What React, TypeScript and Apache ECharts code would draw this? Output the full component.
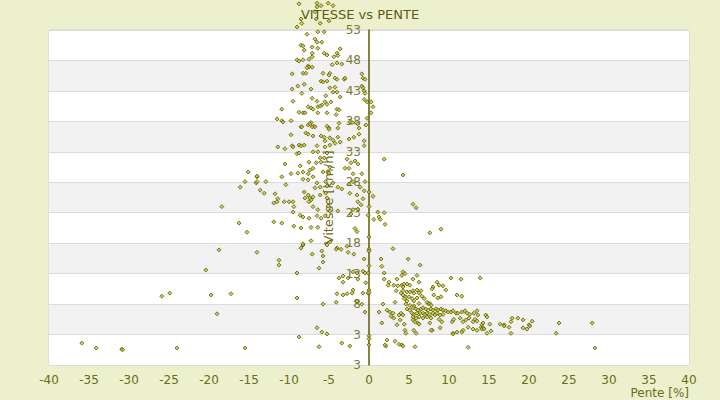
import React, { useEffect, useRef } from "react";
import * as echarts from "echarts";

// Pente [%], Vitesse [km/h] pairs
const descenteHaute: [number, number][] = [
  [-8.75,57.3],[-6.5,57.4],[-6.5,56.8],[-6,57],[-5.1,57.4],[-4.5,57],[-6.75,56],[-8.5,54.8],[-8.4,54.1],[-9,53.5],
  [-6.6,54.8],[-6.1,54.1],[-5,54.5],[-5.6,52.7],[-6.4,52.7],[-7.75,52.3],[-6.75,51.5],[-6.5,51],[-5.9,51],[-8.5,50.5],
  [-8.25,50.4],[-8.1,49.7],[-6.4,50],[-7.1,50.2],[-3.6,49.9],[-5.6,49.2],[-5.25,48.9],[-7.1,49.2],[-7.1,48.6],[-4,49.2],
  [-3.9,48.8],[-4.4,48.6],[-7.5,48.2],[-9,48.1],[-8.75,47.9],[-8.25,48.1],[-7.6,47.1],[-7.5,46.9],[-7.1,46.9],[-7.75,46.8],
  [-4.6,47.3],[-4,47.6],[-3.4,47.4],[-9.6,45.8],[-8.25,45.9],[-7.9,45.9],[-5.75,45.9],[-4.9,45.9],[-5,45.6],[-4.25,45.1],
  [-4,44.9],[-3.1,44.9],[-3,45.1],[-6,44.6],[-5.75,44.5],[-5.25,44.6],[-8.1,44.1],[-8.9,43.8],[-9.6,43.3],[-7.25,43.3],
  [-4.9,43.5],[-4.25,43.6],[-4.5,42.8],[-4,42.8],[-8.4,42.6],[-5.4,42.2],[-3.6,42],[-7.1,41.8],[-6.5,41.3],[-9.5,41.3],
  [-5.5,41.2],[-4.75,41.2],[-5.25,40.8],[-5.9,40.7],[-6.4,40.4],[-6.1,40.5],[-7.6,40.4],[-7.25,40.2],[-7,40],[-4,40],
  [-3.75,39.9],[-10.9,40],[-8.75,39.5],[-8.25,39.4],[-8,39.4],[-6.4,39.4],[-5.25,39.4],[-4.1,39.1],[-11.5,38.4],[-10.9,38.1],
  [-9.75,38.1],[-7.25,37.8],[-7.6,37.4],[-6.9,37.2],[-8.5,37.1],[-5.25,37.2],[-5,36.9],[-3.75,37.7],[-3.9,36.9],[-1.25,36.9],
  [-1.4,37.6],[-2.4,37.9],[-2.1,37.8],
  [-0.9,45.8],[-0.75,45.1],[-0.5,44.9],[-0.9,43.8],[-0.75,43.5],[-0.6,43],[-0.5,42.6],[-0.6,41.6],[-0.25,41.2],[0.25,41.2],
  [0.5,40.4],[0.25,39.4],[-0.25,38.5],[-0.4,37.4]
];

const descenteMoyenne: [number, number][] = [
  [-10.75,37.9],[-8.4,37.1],[-7.4,37.6],[-7.1,37.1],[-6.75,37.1],[-5,36.7],[-7.9,36.1],[-7.6,35.9],[-7,35.6],[-6,35.6],
  [-5.6,35.4],[-9.75,35.8],[-4.9,35.3],[-4.5,34.9],[-3.9,35.4],[-2.5,35.1],[-1.9,35.4],[-1.25,35.9],[-5.5,34.8],[-4.25,34.4],
  [-3.6,34.6],[-0.6,34.8],[-11.4,33.8],[-10.5,33.5],[-9.6,34],[-9.5,33.8],[-8.75,34.1],[-8.5,34],[-8.1,34.1],[-6.5,34],
  [-5.5,33.8],[-4.9,34.1],[-0.6,34],[-9,32.7],[-8.75,32.8],[-7,33],[-6.4,33],[-6.1,32],[-5.6,32],[-5.25,32.8],
  [-6,31.3],[-10.5,31],[-8.6,30.7],[-7.5,31.3],[-7,30.3],[-7.4,30],[-6.6,31.2],[-4.9,30.5],[-5.1,29.7],[-5,29.5],
  [-5.75,29.7],[-8.25,29.7],[-8.9,29.5],[-9.75,29.4],[-7.6,29.4],[-2.75,31.8],[-2.25,31.2],[-1.75,31.5],[-1.4,31],[-2.5,30.3],
  [-3,30.3],[-2,29.4],[-0.9,29.4],[-14,28.9],[-14.1,27.9],[-14,28.1],[-12.9,28.1],[-10.9,28.9],[-10.4,27.6],[-8.25,28.5],
  [-7.6,28.4],[-7,28.9],[-6.5,27.9],[-6.1,27.2],[-6.75,27.1],[-5.4,28.1],[-5.25,27.4],[-4.5,27.9],[-3.9,27.2],[-3.4,26.9],
  [-2.5,27.7],[-2,28.1],[-1.1,27.2],[-0.5,28.1],[-13.6,26.7],[-13.1,26.2],[-11.75,26.1],[-11.4,25.3],[-11.9,24.6],[-11.5,24.8],
  [-10.6,24.8],[-10,24.8],[-9.5,24.8],[-9.4,24],[-9.5,23.1],[-8.1,26.4],[-7.6,25.9],[-7.4,25.4],[-7.25,25.1],[-7.5,24.8],
  [-8,25.4],[-7,25.6],[-6.1,25.9],[-5.4,26.2],[-5.25,25.4],[-2.4,26.2],[-1.5,25.9],[-0.75,25.3],[-1.4,24.8],[-1,24.3],
  [-0.6,26.6],[-7,24],[-6.4,23.5],[-5.1,24.1],[-4.9,23.3],[-3.9,23.3],[-2.25,22.8],[-2,23.5],[-1.4,23.6],[-0.1,22.6],
  [-8.6,22.6],[-8.25,22.3],[-7.5,22.1],[-6.5,22.5],[-6,22.1],[-5.5,22.5],[-11.9,21.5],[-10.9,21.3],[-9.4,20.8],[-8.5,20.5],
  [-7.25,20.6],[-6.4,20.6],[-1.75,20.4],[-1.5,19.9],[-7.25,18.4],[-4.9,18.2],[-8.25,17.7],[-4,17.2]
];

const descenteBasse: [number, number][] = [
  [-14,16.5],[-11.25,15.2],[-11.25,14.4],[-9,13.1],[-8.25,17.9],[-8.5,17.2],[-7.1,16.2],[-5.9,16.7],[-5.75,15.9],[-5.75,14.9],
  [-6.25,13.9],[-5.25,17.7],[-3.5,17],[-4.1,17],[-2.6,16.5],[-1.9,16.2],[-2.75,17.5],[-0.6,15.4],[-2,13.3],[-1.5,13.1],
  [-0.75,13.4],[-0.5,13.1],[-0.1,13.1],[-3.25,12.6],[-3.75,12.3],[-3.25,11.6],[-2.6,12.3],[-1.4,12.1],[-0.4,11.5],[-2,10.3],
  [-2.1,9.8],[-2.75,9.7],[-3.25,9.5],[-4,9.7],[-0.75,9.8],[-0.1,9.8],[-9,9],[-4.1,8.3],[-5.75,8],[-1.5,8.5],
  [-0.9,8],[-0.5,6.7],[-6.5,4.1],[-5.9,3.4],[-5.25,3.1],[-8.75,2.6],[-15.5,0.8],[-6.25,1],[-3.4,1.6],[-2.4,1.1]
];

const penteNulle: [number, number][] = [
  [0,2.8],[0,2.3],[0,1.3],[0,10.3],[0,9.9],[0,26.4],[0,24],[0,19],[0,17],[0,16.7],[0,14.3]
];

const descenteForte: [number, number][] = [
  [-15.1,29.7],[-14,29],[-15.5,28.1],[-16.1,27.2],[-18.4,24],[-16.25,21.3],[-15.25,19.8],[-18.75,16.9],[-20.4,13.6],[-25.9,9.3],
  [-24.9,9.8],[-19.75,9.5],[-17.25,9.7],[-19,6.4],[-24,0.8],[-35.9,1.6],[-34.1,0.8],[-30.9,0.6],[-30.8,0.5]
];

const monteeLegere: [number, number][] = [
  [1.9,31.8],[4.25,29.2],[0.5,25.7],[1.1,23.1],[1.25,22.3],[0.6,21.9],[1.4,21.9],[1.9,23],[2,21.1],
  [5.5,24.4],[5.9,23.8],[7.6,19.7],[9,20.3],[3,17.1],[4.9,15.4],[1.5,15.4],[1.6,14.2],[6.4,14.4],[1.25,6.7],[2.1,1.1],[5.75,1]
];

const monteeDense: [number, number][] = [
  [4.25,13.3],[4.5,13],[4.1,12.7],[6,12.7],[1.9,13.1],[1.9,12.1],[3.5,12.1],[5.5,12.1],[6.25,11.6],[2.5,11.6],
  [2.4,11.1],[3.1,11.1],[4.1,11.1],[4.4,11.3],[4.75,11.3],[5.1,11.1],[3.6,11],[4.25,10.8],[10.25,12.3],[11.5,12.1],
  [13.9,12.3],[8.5,11.6],[8.75,11.1],[9.25,11],[8,10.8],[7.9,10.5],[9.6,10.3],[3.4,10.2],[4,9.8],[4.25,9.5],
  [4.25,10.2],[4.75,10],[5.1,10],[5.5,10.2],[5.6,9.8],[6,10.3],[6.25,9.8],[6.5,10.2],[4.6,9.2],[5,9.2],
  [5.4,8.9],[4.75,8.5],[4.4,8.9],[5.6,8.5],[6,9],[6.6,9.3],[6.9,8.9],[8.1,9.5],[8.6,9],[9,9.2],
  [11,9.5],[11.6,9.3],[3.25,8.3],[4.6,8],[5.1,7.8],[5.6,7.7],[6.25,8.1],[7.4,8.1],[7.6,8.1],[7.25,8.3],
  [7.75,7.8],[1.75,8],[2.25,7],[2.6,6.7],[2.75,6],[3,6.5],[4,6.5],[3.75,6.2],[4.25,6.2],[3.9,5.4],
  [4.75,7.2],[5.1,7],[5.5,7.4],[5.9,7.2],[6.1,7],[6.5,7.2],[6.75,7.4],[7.1,7.2],[7.4,7],[7.75,7.2],
  [8,7],[8.4,7.2],[8.6,7],[9,7.2],[9.25,7],[9.6,6.9],[9.9,6.7],[10.25,6.7],[10.5,6.9],[10.9,6.5],
  [11.1,6.5],[11.6,6.7],[12,6.9],[12.25,6.5],[12.6,6.3],[13.1,6.5],[13.5,6.9],[13.6,6.2],[5.4,6.5],[5.6,6.3],
  [6,6.5],[6.4,6.5],[6.75,6.5],[7,6.3],[7.25,6.5],[7.6,6.3],[8,6.5],[8.25,6.2],[8.5,6.5],[8.9,6.2],
  [9.25,6.3],[5.5,5.9],[5.9,5.7],[6.25,5.9],[6.75,5.7],[7.25,5.9],[7.75,5.7],[5.5,5.4],[5.75,5.1],[6.1,4.9],
  [6.25,4.7],[7.6,4.9],[8.75,5.5],[9.1,5.1],[10.4,5.1],[10.6,5.5],[11.4,5.7],[11.75,5.1],[12.1,5.4],[12.5,5.7],
  [13,5.1],[13.25,5.5],[13.5,5.2],[14,4.2],[14.25,4.1],[14.6,6.2],[14.75,5.9],[3.1,5.7],[3.5,4.6],[4.4,4.7],
  [4.5,3.7],[4.6,3.2],[5.6,3.7],[5.9,3.2],[7.9,3.7],[8.9,4.1],[10.5,3.2],[11,3.4],[11.75,3.7],[12.4,4.2],
  [13,3.9],[1.6,4.9],[2.25,2.1],[2,1.3],[3.25,1.9],[3.75,1.4],[4.1,1.3],[4.25,1.1],[12.4,0.9],[14.75,3.2],
  [7.75,3.7],[11.6,3.4],[10.5,3.1],[14.1,4.6],[14.1,3.9],[13.5,3.7]
];

const monteeForte: [number, number][] = [
  [15.1,4.7],[15.25,3.6],[16.4,4.7],[16.9,4.6],[17.9,5.7],[18.6,5.7],[19.25,5.4],[20.4,5.2],[17.5,4.2],[17.75,3.2],
  [19.25,4.1],[19.75,3.9],[20,4.6],[17.75,5.1],[20.1,4.4],[23.75,4.9],[23.4,3.2],[27.9,4.9],[28.25,0.8],[14.4,3.9],
  [16.9,4.4],[14.25,4.9]
];

const points = [
  ...descenteHaute, ...descenteMoyenne, ...descenteBasse, ...penteNulle,
  ...descenteForte, ...monteeLegere, ...monteeDense, ...monteeForte
];

const titleText = "VITESSE vs PENTE";
const xName = "Pente [%]";
const yName = "Vitesse [km/h]";

export default function App() {
  const ref = useRef<HTMLDivElement>(null);
  useEffect(() => {
    if (!ref.current) return;
    const chart = echarts.init(ref.current, undefined, { renderer: "svg" });
    const font = "DejaVu Sans";
    chart.setOption({
      animation: false,
      backgroundColor: "#ecf0cd",
      textStyle: { fontFamily: font },
      title: {
        text: titleText,
        left: "center",
        top: 3,
        textStyle: { fontSize: 13, fontWeight: "normal", color: "#5c5c14", fontFamily: font }
      },
      grid: {
        left: 49, right: 31, top: 30, bottom: 35,
        outerBoundsMode: "none",
        containLabel: false,
        show: true, borderColor: "#d4d4d4", borderWidth: 1, backgroundColor: "transparent"
      },
      graphic: [
        {
          type: "text",
          right: 31,
          top: 387,
          style: { text: xName, fill: "#6b6b20", fontSize: 12, fontFamily: font }
        }
      ],
      xAxis: {
        type: "value",
        min: -40, max: 40, interval: 5,
        axisLine: { show: false },
        axisTick: { show: false },
        splitLine: { show: false },
        axisLabel: { color: "#6b6b20", fontSize: 12, margin: 9, fontFamily: font }
      },
      yAxis: {
        type: "value",
        position: "left",
        offset: -320,
        min: -2, max: 53, interval: 5,
        axisLine: { show: true, onZero: false, lineStyle: { color: "#5d5d00", width: 1.5 } },
        axisTick: { show: false },
        axisLabel: {
          color: "#7a7a35", fontSize: 12, margin: 8, fontFamily: font,
          formatter: (v: number) => (v < 3 ? "3" : String(v))
        },
        splitLine: { show: true, lineStyle: { color: "#dcdcdc" } },
        splitArea: { show: true, areaStyle: { color: ["#ffffff", "#f2f2f2"] } },
        name: yName,
        nameLocation: "middle",
        nameGap: 33,
        nameRotate: 90,
        nameTextStyle: { color: "#6b6b20", fontSize: 13, fontFamily: font }
      },
      series: [
        {
          type: "scatter",
          data: points,
          clip: false,
          symbol: "diamond",
          symbolSize: 4,
          itemStyle: { color: "#c4c43a", borderColor: "#5a5a00", borderWidth: 1 }
        }
      ]
    });
    return () => chart.dispose();
  }, []);
  return <div ref={ref} style={{ position: "fixed", left: 0, top: 0, width: 720, height: 400 }} />;
}
